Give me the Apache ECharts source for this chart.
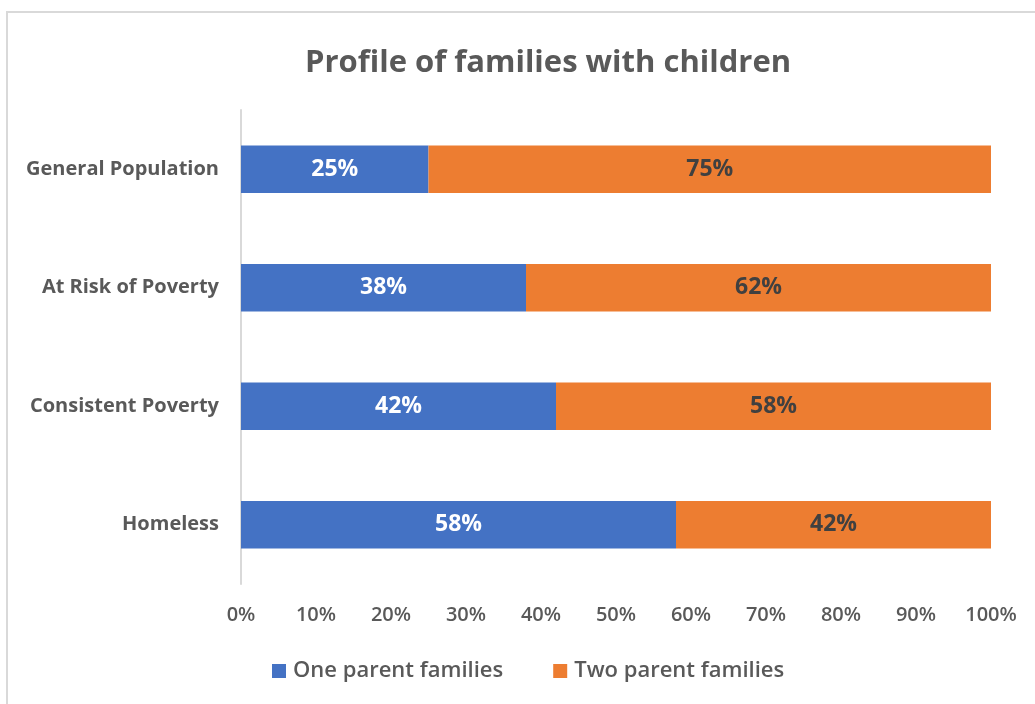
<!DOCTYPE html>
<html>
<head>
<meta charset="utf-8">
<script src="https://cdn.jsdelivr.net/npm/echarts@6/dist/echarts.min.js"></script>
<style>
  html, body { margin: 0; padding: 0; background: #fff; }
  #frame { position: absolute; left: 6px; top: 11px; width: 1040px; height: 700px;
           border: 2px solid #d9d9d9; box-sizing: border-box; }
  #chart { position: absolute; left: 0; top: 0; width: 1035px; height: 704px; }
</style>
</head>
<body>
<div id="frame"></div>
<div id="chart"></div>
<script>
const categories = ['General Population', 'At Risk of Poverty', 'Consistent Poverty', 'Homeless'];
const seriesNames = ['One parent families', 'Two parent families'];
const oneParent = [25, 38, 42, 58];
const twoParent = [75, 62, 58, 42];
const xTicks = [0, 10, 20, 30, 40, 50, 60, 70, 80, 90, 100];

const FONT = '"Open Sans", Lato, sans-serif';
const GREY = '#595959';

const chart = echarts.init(document.getElementById('chart'), null, { renderer: 'canvas' });

chart.setOption({
  animation: false,
  textStyle: { fontFamily: FONT },
  title: {
    text: 'Profile of families with children',
    left: 300,
    top: 43,
    textStyle: { fontFamily: FONT, fontSize: 31, fontWeight: 'bold', color: GREY }
  },
  legend: {
    data: seriesNames,
    bottom: 17,
    left: 267,
    itemWidth: 14,
    itemHeight: 14,
    itemGap: 50,
    icon: 'rect',
    textStyle: { fontFamily: FONT, fontSize: 22, color: GREY, fontWeight: 600, padding: [0, 0, 0, 2] }
  },
  grid: { left: 241, right: 44, top: 110, bottom: 120, containLabel: false },
  xAxis: {
    type: 'value',
    min: xTicks[0],
    max: xTicks[xTicks.length - 1],
    interval: 10,
    axisLine: { show: false },
    axisTick: { show: false },
    splitLine: { show: false },
    axisLabel: {
      formatter: v => v + '%',
      color: GREY,
      fontSize: 20,
      fontWeight: 600,
      fontFamily: FONT,
      margin: 21
    }
  },
  yAxis: {
    type: 'category',
    data: categories,
    inverse: true,
    axisLine: { show: true, lineStyle: { color: '#d9d9d9', width: 2 } },
    axisTick: { show: false },
    axisLabel: { color: GREY, fontSize: 20, fontWeight: 'bold', fontFamily: FONT, margin: 22 }
  },
  series: [
    {
      name: seriesNames[0],
      type: 'bar',
      stack: 'total',
      data: oneParent,
      barWidth: '40%',
      itemStyle: { color: '#4472C4' },
      label: {
        show: true, position: 'inside', formatter: p => p.value + '%',
        color: '#ffffff', fontSize: 23, fontWeight: 'bold', fontFamily: FONT
      }
    },
    {
      name: seriesNames[1],
      type: 'bar',
      stack: 'total',
      data: twoParent,
      barWidth: '40%',
      itemStyle: { color: '#ED7D31' },
      label: {
        show: true, position: 'inside', formatter: p => p.value + '%',
        color: '#404040', fontSize: 23, fontWeight: 'bold', fontFamily: FONT
      }
    }
  ]
});
</script>
</body>
</html>
